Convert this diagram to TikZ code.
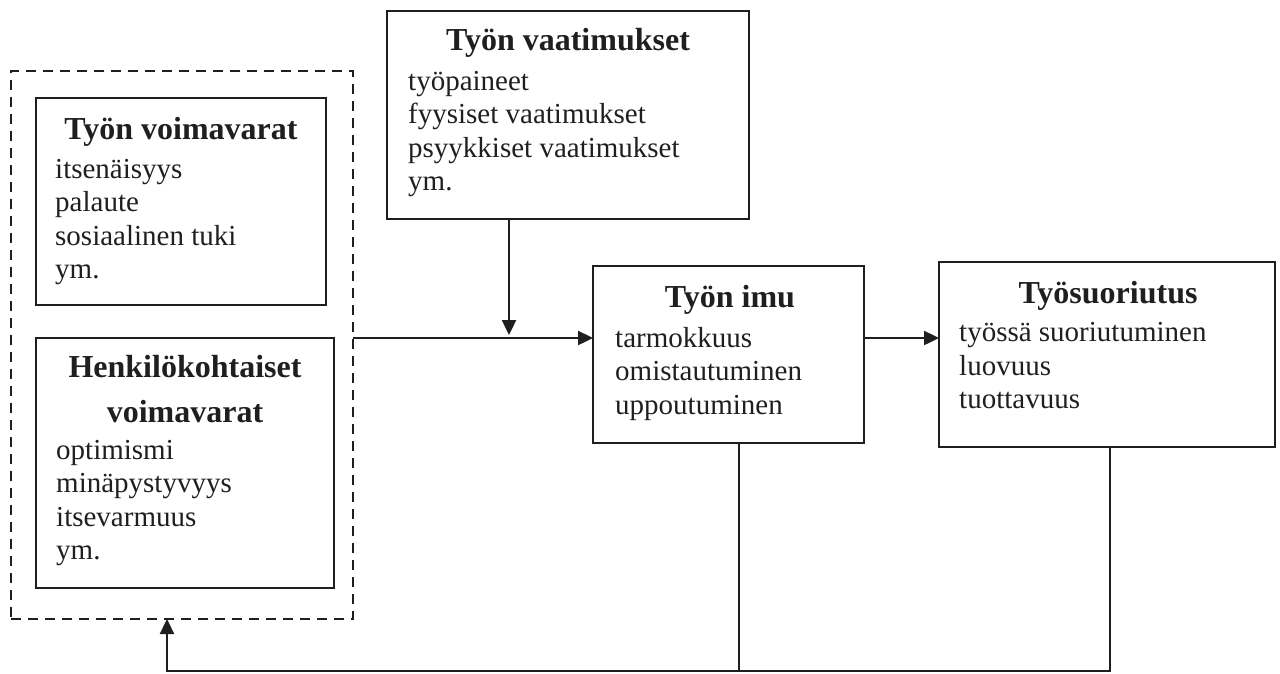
\documentclass[tikz,border=0pt]{standalone}
\usepackage{fontspec}
\setmainfont{Liberation Serif}
\usetikzlibrary{arrows.meta}

\begin{document}
\begin{tikzpicture}[x=1pt,y=-1pt,
  ink/.style={draw=black!88},
  panel/.style={ink, line width=1.4pt, fill=none, inner sep=0pt, outer sep=0pt, minimum width=#1},
  group/.style={ink, line width=1.8pt, dash pattern=on 10pt off 7pt, inner sep=0pt, outer sep=0pt},
  heading/.style={anchor=base, inner sep=0pt, font=\fontsize{32}{45}\selectfont\bfseries, text=black!88, align=center},
  items/.style={anchor=base west, inner sep=0pt, font=\fontsize{29}{33.5}\selectfont, text=black!88, align=left},
  link/.style={black!88, line width=2.4pt, line join=miter},
  conn/.style={link, -{Triangle[length=15pt,width=14pt]}}
]
\useasboundingbox (0,0) rectangle (1280,673);

% dashed frame around the two resource boxes
\node[group, minimum width=342pt, minimum height=548pt] (resgroup) at (182,345) {};

% job resources (multi-line texts are placed by the baseline of their last line)
\node[panel=290pt, minimum height=207pt] (jobres) at (181,201.5) {};
\node[heading] (jobresT) at (181,139) {Työn voimavarat};
\node[items] (jobresL) at (55,278.5) {itsenäisyys\\palaute\\sosiaalinen tuki\\ym.};

% personal resources
\node[panel=298pt, minimum height=250pt] (persres) at (185,463) {};
\node[heading] (persresT) at (185,422) {Henkilökohtaiset\\voimavarat};
\node[items] (persresL) at (56,559.5) {optimismi\\minäpystyvyys\\itsevarmuus\\ym.};

% job demands
\node[panel=362pt, minimum height=208pt] (demands) at (568,115) {};
\node[heading] (demandsT) at (568,50) {Työn vaatimukset};
\node[items] (demandsL) at (408,190.5) {työpaineet\\fyysiset vaatimukset\\psyykkiset vaatimukset\\ym.};

% work engagement
\node[panel=271pt, minimum height=177pt, line width=2.6pt] (engage) at (728.5,354.5) {};
\node[heading] (engageT) at (730,307) {Työn imu};
\node[items] (engageL) at (615,414) {tarmokkuus\\omistautuminen\\uppoutuminen};

% job performance
\node[panel=336pt, minimum height=185pt, line width=1.6pt] (perf) at (1107,354.5) {};
\node[heading] (perfT) at (1108,303) {Työsuoriutus};
\node[items] (perfL) at (959,408.5) {työssä suoriutuminen\\luovuus\\tuottavuus};

% connectors
\coordinate (join) at (509,338);
\draw[conn] (demands.south -| join) -- ([yshift=3pt]join);
\draw[conn] (resgroup.east |- join) -- (engage.west |- join);
\draw[conn] (engage.east |- join) -- (perf.west |- join);

% feedback loop
\coordinate (e1) at (739,671);
\coordinate (p1) at (1110,671);
\coordinate (fb) at (167,671);
\draw[link] (engage.south -| e1) -- (e1);
\draw[conn] (perf.south -| p1) -- (p1) -- (fb) -- (resgroup.south -| fb);
\end{tikzpicture}
\end{document}
